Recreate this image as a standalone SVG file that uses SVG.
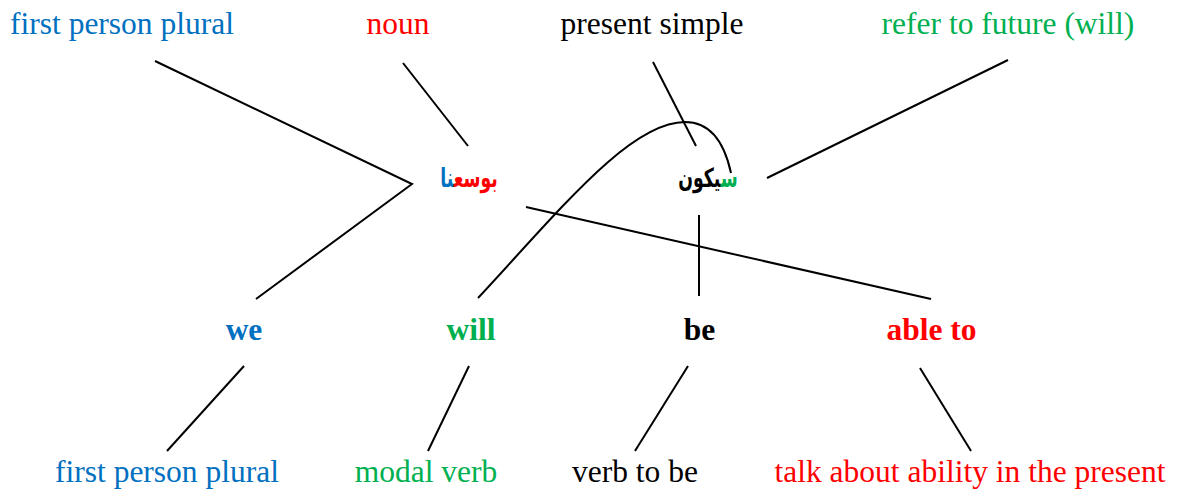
<svg xmlns="http://www.w3.org/2000/svg" width="1177" height="500" viewBox="0 0 1177 500">
<style>
.t{font-family:"Liberation Serif","Times New Roman",serif;font-size:31.5px;text-anchor:middle}
.b{font-weight:bold}
.ar{font-family:"DejaVu Sans","Noto Sans",sans-serif;font-weight:bold;font-size:24px;text-anchor:middle}
.blue{fill:#0070C0}.red{fill:#FF0000}.green{fill:#00B050}.black{fill:#000}
.c line,.c path,.c polyline{stroke:#000;stroke-width:2;fill:none}
</style>
<rect width="1177" height="500" fill="#fff"/>
<g class="c" id="connectors">
<polyline points="155,61 412,184 256,299"/>
<line x1="403" y1="63" x2="468" y2="146"/>
<line x1="526" y1="207" x2="931" y2="299"/>
<line x1="653" y1="62" x2="696" y2="146"/>
<path d="M478,298 C560,210 630,122 685,122 C715,122 726,150 731,173"/>
<line x1="767" y1="178" x2="1008" y2="60"/>
<line x1="699" y1="215" x2="699" y2="296"/>
<line x1="244" y1="366" x2="167" y2="451"/>
<line x1="469" y1="366" x2="428" y2="451"/>
<line x1="688" y1="366" x2="635" y2="451"/>
<line x1="920" y1="368" x2="971" y2="451"/>
</g>
<g id="top1"><text class="t blue" x="122" y="34">first person plural</text></g>
<g id="top2"><text class="t red" x="398" y="34">noun</text></g>
<g id="top3"><text class="t black" x="652" y="34">present simple</text></g>
<g id="top4"><text class="t green" x="1008" y="34">refer to future (will)</text></g>
<g id="ar1" transform="translate(469,187) scale(0.72,1.1)"><text class="ar" x="0" y="0"><tspan class="red">بوسع</tspan><tspan class="blue">نا</tspan></text></g>
<g id="ar2" transform="translate(708,187) scale(0.72,1.1)"><text class="ar" x="0" y="0"><tspan class="green">س</tspan><tspan class="black">يكون</tspan></text></g>
<g id="we"><text class="t b blue" x="244" y="340">we</text></g>
<g id="will"><text class="t b green" x="471" y="340">will</text></g>
<g id="be"><text class="t b black" x="699.5" y="340">be</text></g>
<g id="ableto"><text class="t b red" x="931.5" y="340">able to</text></g>
<g id="bot1"><text class="t blue" x="167" y="482">first person plural</text></g>
<g id="bot2"><text class="t green" x="426" y="482">modal verb</text></g>
<g id="bot3"><text class="t black" x="635" y="482">verb to be</text></g>
<g id="bot4"><text class="t red" x="970" y="482">talk about ability in the present</text></g>
</svg>
